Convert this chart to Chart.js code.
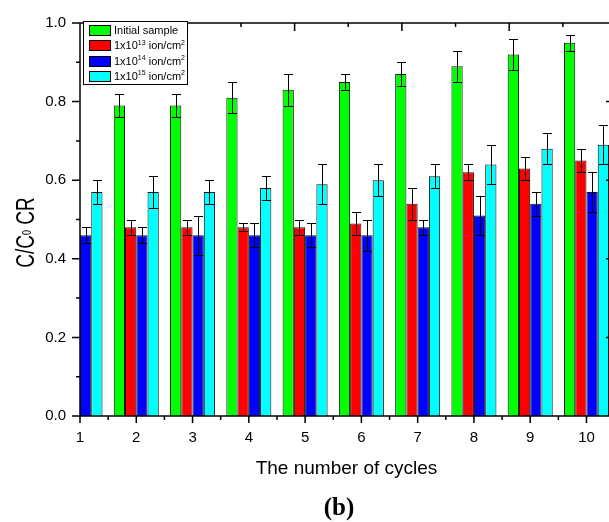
<!DOCTYPE html>
<html>
<head>
<meta charset="utf-8">
<script src="https://cdn.jsdelivr.net/npm/chart.js@4.4.1/dist/chart.umd.min.js"></script>
<style>
html, body { margin: 0; padding: 0; background: #fff; }
canvas { display: block; }
</style>
</head>
<body>
<canvas id="chart" width="609" height="522"></canvas>
<script>
// cycles on the x axis
const cycles = [1, 2, 3, 4, 5, 6, 7, 8, 9, 10];
const yTicks = [0, 0.2, 0.4, 0.6, 0.8, 1.0];
const topTicks = [0, 0.5, 1, 1.5, 2, 2.5, 3, 3.5, 4, 4.5];

const seriesNames = ['Initial sample', '1x10^{13} ion/cm^{2}', '1x10^{14} ion/cm^{2}', '1x10^{15} ion/cm^{2}'];
const seriesColors = ['#00ff00', '#ff0000', '#0000ff', '#00ffff'];

const initialVals = [null, 0.79, 0.79, 0.81, 0.83, 0.85, 0.87, 0.89, 0.92, 0.95];
const initialErr  = [null, 0.03, 0.03, 0.04, 0.04, 0.02, 0.03, 0.04, 0.04, 0.02];
const e13Vals = [null, 0.48, 0.48, 0.48, 0.48, 0.49, 0.54, 0.62, 0.63, 0.65];
const e13Err  = [null, 0.02, 0.02, 0.01, 0.02, 0.03, 0.04, 0.02, 0.03, 0.03];
const e14Vals = [0.46, 0.46, 0.46, 0.46, 0.46, 0.46, 0.48, 0.51, 0.54, 0.57];
const e14Err  = [0.02, 0.02, 0.05, 0.03, 0.03, 0.04, 0.02, 0.05, 0.03, 0.05];
const e15Vals = [0.57, 0.57, 0.57, 0.58, 0.59, 0.60, 0.61, 0.64, 0.68, 0.69];
const e15Err  = [0.03, 0.04, 0.03, 0.03, 0.05, 0.04, 0.03, 0.05, 0.04, 0.05];

const xTitle = 'The number of cycles';
const yTitle = 'C/C_{0} CR';
const caption = '(b)';

const SANS = '"Liberation Sans", Arial, sans-serif';

function makeDataset(i, vals, errs) {
	var pts = [], e = [];
	cycles.forEach((c, k) => {
		if (vals[k] !== null) {
			pts.push({x: c, y: vals[k]});
			e.push(errs[k]);
		}
	});
	return {
		label: seriesNames[i],
		data: pts,
		errors: e,
		backgroundColor: seriesColors[i],
		borderColor: '#111',
		borderWidth: 1,
		borderSkipped: 'start',
		categoryPercentage: 0.8,
		barPercentage: 1.0,
	};
}

// split "a^{b}c_{d}" into parts
function richParts(text) {
	const parts = [];
	const re = /([\^_])\{([^}]*)\}/g;
	let last = 0, m;
	while ((m = re.exec(text))) {
		if (m.index > last) parts.push({t: text.slice(last, m.index), k: ''});
		parts.push({t: m[2], k: m[1]});
		last = re.lastIndex;
	}
	if (last < text.length) parts.push({t: text.slice(last), k: ''});
	return parts;
}

function drawRich(ctx, text, x, y, o) {
	const parts = richParts(text);
	const fontOf = (p) => (p.k ? o.small : o.size) + 'px ' + SANS;
	let w = 0;
	parts.forEach(p => { ctx.font = fontOf(p); w += ctx.measureText(p.t).width; });
	let cx = o.align === 'center' ? x - w / 2 : x;
	ctx.textAlign = 'left';
	ctx.textBaseline = 'alphabetic';
	parts.forEach(p => {
		ctx.font = fontOf(p);
		let dy = 0;
		if (p.k === '^') dy = -o.raise;
		if (p.k === '_') dy = o.drop;
		ctx.fillText(p.t, cx, y + dy);
		cx += ctx.measureText(p.t).width;
	});
}

const errorBars = {
	id: 'errorBars',
	afterDatasetsDraw(chart) {
		const ctx = chart.ctx, y = chart.scales.y;
		ctx.save();
		ctx.strokeStyle = '#000';
		ctx.lineWidth = 1;
		chart.data.datasets.forEach((ds, d) => {
			chart.getDatasetMeta(d).data.forEach((bar, j) => {
				const p = ds.data[j], e = ds.errors[j];
				const x = Math.round(bar.x) + 0.5;
				const top = Math.round(y.getPixelForValue(p.y + e)) + 0.5;
				const bot = Math.round(y.getPixelForValue(p.y - e)) + 0.5;
				ctx.beginPath();
				ctx.moveTo(x, top); ctx.lineTo(x, bot);
				ctx.moveTo(x - 4.5, top); ctx.lineTo(x + 4.5, top);
				ctx.moveTo(x - 4.5, bot); ctx.lineTo(x + 4.5, bot);
				ctx.stroke();
			});
		});
		ctx.restore();
	}
};

const frameAndText = {
	id: 'frameAndText',
	afterDraw(chart) {
		const {ctx, chartArea: {left, top, right, bottom}} = chart;
		const x = chart.scales.x, y = chart.scales.y, xt = chart.scales.xTop;
		ctx.save();
		ctx.strokeStyle = '#000';
		ctx.lineWidth = 1.5;
		ctx.beginPath();
		ctx.moveTo(left, top); ctx.lineTo(left, bottom);
		ctx.moveTo(left, bottom); ctx.lineTo(right, bottom);
		ctx.moveTo(left, top); ctx.lineTo(right, top);
		// left axis ticks (outward), right ones inward
		yTicks.forEach((v, i) => {
			const py = y.getPixelForValue(v);
			ctx.moveTo(left - 8, py); ctx.lineTo(left, py);
			ctx.moveTo(right - 3, py); ctx.lineTo(right, py);
			if (i < yTicks.length - 1) {
				const pm = y.getPixelForValue((v + yTicks[i + 1]) / 2);
				ctx.moveTo(left - 4, pm); ctx.lineTo(left, pm);
			}
		});
		// bottom axis ticks (outward)
		cycles.forEach((c, i) => {
			const px = x.getPixelForValue(c);
			ctx.moveTo(px, bottom); ctx.lineTo(px, bottom + 7);
			if (i < cycles.length - 1) {
				const pm = x.getPixelForValue((c + cycles[i + 1]) / 2);
				ctx.moveTo(pm, bottom); ctx.lineTo(pm, bottom + 4);
			}
		});
		// top axis ticks (inward)
		topTicks.forEach(v => {
			const px = xt.getPixelForValue(v);
			const len = Number.isInteger(v) ? 8 : 4;
			ctx.moveTo(px, top); ctx.lineTo(px, top + len);
		});
		ctx.stroke();

		// legend
		ctx.lineWidth = 1;
		ctx.fillStyle = '#fff';
		ctx.fillRect(83.5, 21.5, 104, 63);
		ctx.strokeRect(83.5, 21.5, 104, 63);
		seriesNames.forEach((name, i) => {
			const sy = 25 + i * 15.3;
			ctx.fillStyle = seriesColors[i];
			ctx.fillRect(89.5, Math.round(sy) + 0.5, 21, 10);
			ctx.strokeRect(89.5, Math.round(sy) + 0.5, 21, 10);
			ctx.fillStyle = '#000';
			drawRich(ctx, name, 114, sy + 9, {size: 11, small: 7, raise: 4.5, drop: 0});
		});

		// x axis title
		ctx.fillStyle = '#000';
		ctx.font = '19px ' + SANS;
		ctx.textAlign = 'center';
		ctx.textBaseline = 'alphabetic';
		ctx.fillText(xTitle, (left + right) / 2 + 2, 474);

		// y axis title, rotated and a bit stretched
		ctx.save();
		ctx.translate(33.5, 232.5);
		ctx.rotate(-Math.PI / 2);
		ctx.scale(1, 1.36);
		drawRich(ctx, yTitle, 0, 0, {size: 19, small: 9, raise: 0, drop: -1.5, align: 'center'});
		ctx.restore();

		// caption
		ctx.font = 'bold 25px "Liberation Serif", "Times New Roman", serif';
		ctx.textAlign = 'center';
		ctx.fillText(caption, 339, 515);
		ctx.restore();
	}
};

const ctx = document.getElementById('chart').getContext('2d');
Chart.defaults.font.family = SANS;
Chart.defaults.color = '#000';

const chart = new Chart(ctx, {
	type: 'bar',
	data: {
		datasets: [
			makeDataset(0, initialVals, initialErr),
			makeDataset(1, e13Vals, e13Err),
			makeDataset(2, e14Vals, e14Err),
			makeDataset(3, e15Vals, e15Err),
		]
	},
	options: {
		responsive: false,
		animation: false,
		layout: { padding: { top: 19, right: 0, left: 0, bottom: 0 } },
		plugins: {
			legend: { display: false },
			tooltip: { enabled: false },
		},
		scales: {
			x: {
				type: 'linear',
				position: 'bottom',
				offset: false,
				min: 1,
				max: 10.4,
				afterBuildTicks: (scale) => { scale.ticks = cycles.map(v => ({value: v})); },
				afterFit: (scale) => { scale.height = 106; },
				grid: { display: false, drawTicks: false, offset: false },
				border: { display: false },
				ticks: { font: { size: 15 }, color: '#000', padding: 13, maxRotation: 0, autoSkip: false },
			},
			xTop: {
				type: 'linear',
				position: 'top',
				display: false,
				offset: false,
				min: 0,
				max: 4.93,
			},
			y: {
				min: 0,
				max: 1,
				afterBuildTicks: (scale) => { scale.ticks = yTicks.map(v => ({value: v})); },
				afterFit: (scale) => { scale.width = 80; },
				grid: { display: false, drawTicks: false },
				border: { display: false },
				ticks: {
					font: { size: 15 },
					color: '#000',
					padding: 14,
					callback: (v) => v.toFixed(1),
				},
			},
		},
	},
	plugins: [errorBars, frameAndText],
});
</script>
</body>
</html>
